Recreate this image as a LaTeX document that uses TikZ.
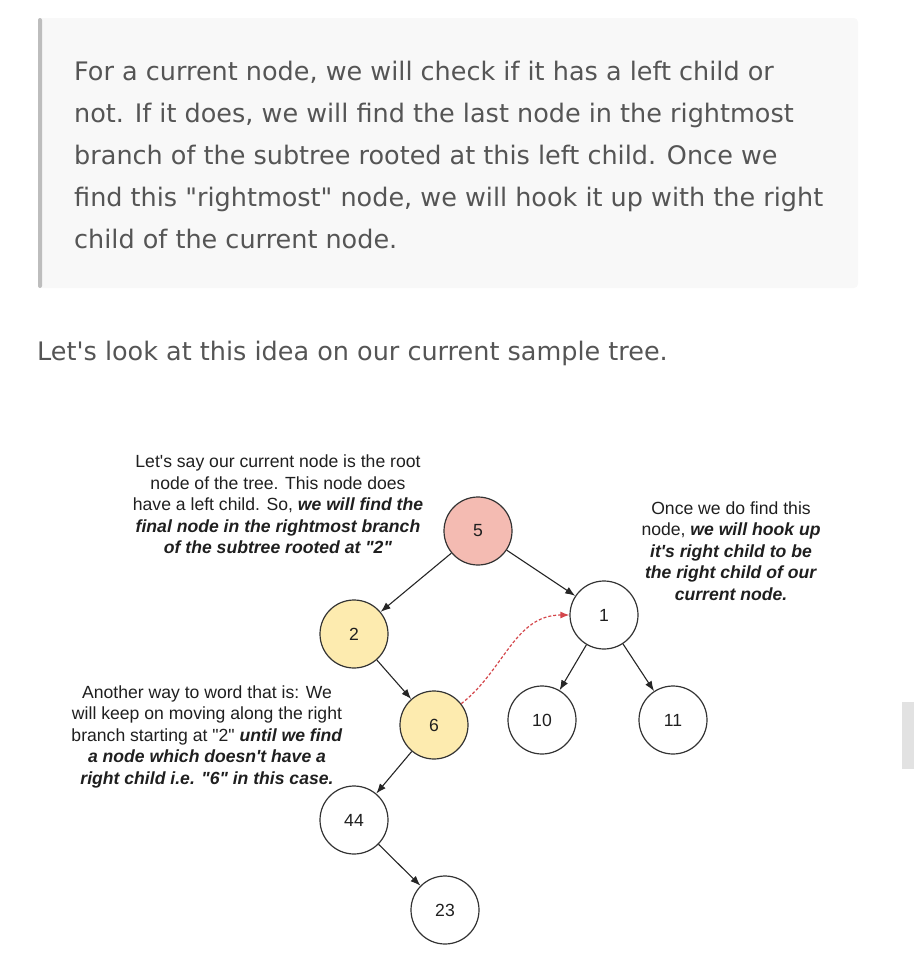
\documentclass[tikz,border=0pt]{standalone}
\usepackage{fontspec}
\setmainfont{Liberation Sans}[Ligatures=TeXOff]
\newfontfamily\bodyfont{DejaVu Sans}[Ligatures=TeXOff]
\usetikzlibrary{arrows.meta, positioning}

\definecolor{rootred}{HTML}{F4BBB2}
\definecolor{pathyellow}{HTML}{FDEBAF}
\definecolor{hookred}{HTML}{D4464B}
\definecolor{quotebg}{HTML}{F8F8F8}
\definecolor{quotebar}{HTML}{BDBDBD}
\definecolor{bodygray}{HTML}{555555}
\definecolor{sidegray}{HTML}{E2E2E2}

\newcommand{\bi}[1]{\textbf{\textit{#1}}}

\begin{document}
\begin{tikzpicture}[x=1pt, y=1pt, on grid,
  every node/.style={font=\fontsize{17.6}{21.5}\selectfont, text=black!88},
  tnode/.style={circle, draw=black!80, line width=1.2pt, minimum size=68pt, inner sep=0pt},
  edge/.style={-{Latex[length=10pt,width=7.5pt]}, line width=1.1pt, draw=black!85},
  hook/.style={-{Latex[length=9pt,width=7pt]}, dash pattern=on 3pt off 2pt, line width=1.2pt, draw=hookred},
  note/.style={align=center, inner sep=0pt, anchor=base},
  body/.style={anchor=base west, inner sep=0pt, text=bodygray, font=\bodyfont\fontsize{25.5}{42}\selectfont}]
\useasboundingbox (0,0) rectangle (914,-970);

% quote block
\fill[quotebg, rounded corners=4pt] (38,-18) rectangle (858,-288);
\fill[quotebar, rounded corners=2pt] (38,-18) rectangle (42,-288);
\node (intro) [body, align=left] at (74,-248)
  {For a current node, we will check if it has a left child or\\
   not. If it does, we will find the last node in the rightmost\\
   branch of the subtree rooted at this left child. Once we\\
   find this "rightmost" node, we will hook it up with the right\\
   child of the current node.};
\node (lead) [body] at (37,-360)
  {Let's look at this idea on our current sample tree.};

% tree
\node (five) [tnode, fill=rootred] at (478,-531) {5};
\node (two) [tnode, fill=pathyellow, below left=103pt and 124pt of five] {2};
\node (one) [tnode, below right=84pt and 126pt of five] {1};
\node (six) [tnode, fill=pathyellow, below right=91pt and 80pt of two] {6};
\node (fortyfour) [tnode, below left=95pt and 80pt of six] {44};
\node (twentythree) [tnode, below right=90pt and 91pt of fortyfour] {23};
\node (ten) [tnode, below left=105pt and 62pt of one] {10};
\node (eleven) [tnode, below right=105pt and 69pt of one] {11};

\draw[edge] (five) -- (two);
\draw[edge] (five) -- (one);
\draw[edge] (two) -- (six);
\draw[edge] (six) -- (fortyfour);
\draw[edge] (fortyfour) -- (twentythree);
\draw[edge] (one) -- (ten);
\draw[edge] (one) -- (eleven);
\draw[hook] (six) to[out=38, in=180] (one);

% notes
\node (rootnote) [note] at (278,-553.5)
  {Let's say our current node is the root\\
   node of the tree. This node does\\
   have a left child. So, \bi{we will find the}\\
   \bi{final node in the rightmost branch}\\
   \bi{of the subtree rooted at "2"}};
\node (hooknote) [note] at (731,-600)
  {Once we do find this\\
   node, \bi{we will hook up}\\
   \bi{it's right child to be}\\
   \bi{the right child of our}\\
   \bi{current node.}};
\node (branchnote) [note] at (207,-784)
  {Another way to word that is: We\\
   will keep on moving along the right\\
   branch starting at "2" \bi{until we find}\\
   \bi{a node which doesn't have a}\\
   \bi{right child i.e. "6" in this case.}};

\fill[sidegray] (902,-702) rectangle (914,-769);
\end{tikzpicture}
\end{document}
